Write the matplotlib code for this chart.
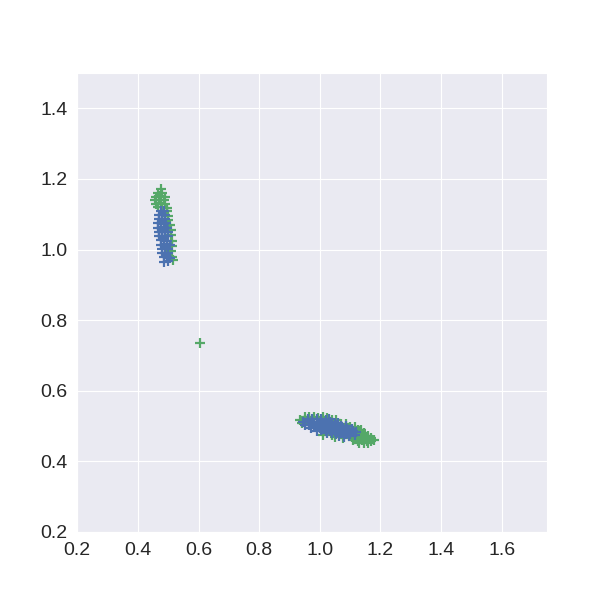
import matplotlib
matplotlib.use("Agg")
import matplotlib.pyplot as plt
import seaborn as sns

sns.set_style("darkgrid")
plt.rcParams['font.family'] = ['Liberation Sans', 'DejaVu Sans']

# upper-left cluster, green
green_a_x = [0.475, 0.465, 0.481, 0.460, 0.474, 0.490, 0.455, 0.470, 0.486,
             0.461, 0.476, 0.491, 0.466, 0.480, 0.495, 0.496, 0.500, 0.501,
             0.505, 0.508, 0.510, 0.511, 0.512, 0.509, 0.513, 0.515]
green_a_y = [1.170, 1.160, 1.161, 1.150, 1.151, 1.148, 1.140, 1.141, 1.139,
             1.130, 1.131, 1.128, 1.120, 1.121, 1.118, 1.108, 1.096, 1.084,
             1.070, 1.055, 1.040, 1.025, 1.010, 0.995, 0.980, 0.970]

# upper-left cluster, blue
blue_a_x = [0.476, 0.486,
            0.470, 0.480, 0.490,
            0.471, 0.481, 0.491,
            0.465, 0.475, 0.485, 0.494,
            0.466, 0.476, 0.486, 0.496,
            0.470, 0.480, 0.490, 0.499,
            0.471, 0.481, 0.491, 0.500,
            0.475, 0.485, 0.495,
            0.476, 0.486, 0.496, 0.505,
            0.480, 0.490, 0.501,
            0.481, 0.491, 0.500,
            0.485, 0.495, 0.505,
            0.486, 0.500]
blue_a_y = [1.110, 1.108,
            1.098, 1.097, 1.099,
            1.086, 1.087, 1.085,
            1.074, 1.075, 1.073, 1.074,
            1.062, 1.061, 1.063, 1.062,
            1.050, 1.051, 1.049, 1.050,
            1.038, 1.037, 1.039, 1.038,
            1.026, 1.027, 1.025,
            1.014, 1.013, 1.015, 1.014,
            1.002, 1.003, 1.001,
            0.990, 0.991, 0.989,
            0.978, 0.979, 0.977,
            0.966, 0.967]

# lower-right cluster, green
green_b_x = [0.950, 0.965, 0.980, 0.995, 1.010, 1.025,
             0.935, 0.950, 1.040, 1.055,
             0.940, 1.070, 1.085,
             1.100, 1.115,
             1.125, 1.135,
             1.130, 1.145,
             1.010, 1.040, 1.120, 1.135, 1.150, 1.160,
             1.050, 1.075, 1.105, 1.120, 1.140, 1.155, 1.170,
             1.110, 1.125, 1.140, 1.155, 1.170, 1.180,
             1.130, 1.145, 1.160]
green_b_y = [0.525, 0.526, 0.525, 0.524, 0.525, 0.523,
             0.517, 0.518, 0.517, 0.516,
             0.508, 0.507, 0.506,
             0.498, 0.497,
             0.490, 0.489,
             0.482, 0.481,
             0.475, 0.474, 0.475, 0.474, 0.473, 0.472,
             0.468, 0.467, 0.468, 0.467, 0.466, 0.467, 0.465,
             0.460, 0.459, 0.460, 0.458, 0.459, 0.460,
             0.452, 0.451, 0.453]

# lower-right cluster, blue
blue_b_x = [0.960, 0.975, 0.990, 1.005, 1.020, 1.030,
            0.945, 0.960, 0.975, 0.990, 1.005, 1.020, 1.035, 1.050, 1.060,
            0.950, 0.965, 0.980, 0.995, 1.010, 1.025, 1.040, 1.055, 1.070, 1.085,
            0.970, 0.985, 1.000, 1.015, 1.030, 1.045, 1.060, 1.075, 1.090, 1.105,
            0.990, 1.005, 1.020, 1.035, 1.050, 1.065, 1.080, 1.095, 1.110, 1.120,
            1.025, 1.040, 1.055, 1.070, 1.085, 1.100, 1.115,
            1.065, 1.080, 1.095]
blue_b_y = [0.520, 0.521, 0.519, 0.520, 0.518, 0.519,
            0.512, 0.513, 0.511, 0.512, 0.513, 0.511, 0.512, 0.510, 0.509,
            0.503, 0.504, 0.502, 0.503, 0.504, 0.502, 0.503, 0.502, 0.501, 0.500,
            0.495, 0.496, 0.494, 0.495, 0.496, 0.494, 0.495, 0.494, 0.493, 0.492,
            0.487, 0.488, 0.486, 0.487, 0.488, 0.486, 0.487, 0.486, 0.485, 0.484,
            0.479, 0.480, 0.478, 0.479, 0.478, 0.477, 0.476,
            0.471, 0.470, 0.471]

# lone green point
outlier_x = [0.605]
outlier_y = [0.735]

green = '#55A868'
blue = '#4C72B0'

fig = plt.figure(figsize=(6.08, 6.08), dpi=100)
ax = fig.add_axes([0.127, 0.125, 0.773, 0.755])
ax.scatter(green_a_x + green_b_x + outlier_x, green_a_y + green_b_y + outlier_y,
           marker='+', s=45, linewidths=1.6, color=green)
ax.scatter(blue_a_x + blue_b_x, blue_a_y + blue_b_y,
           marker='+', s=45, linewidths=1.6, color=blue)
ax.set_xlim(0.2, 1.75)
ax.set_ylim(0.2, 1.5)
ax.set_xticks([0.2, 0.4, 0.6, 0.8, 1.0, 1.2, 1.4, 1.6])
ax.set_yticks([0.2, 0.4, 0.6, 0.8, 1.0, 1.2, 1.4])
ax.tick_params(labelsize=14, colors='#262626')
fig.savefig("out.png", dpi=100)
